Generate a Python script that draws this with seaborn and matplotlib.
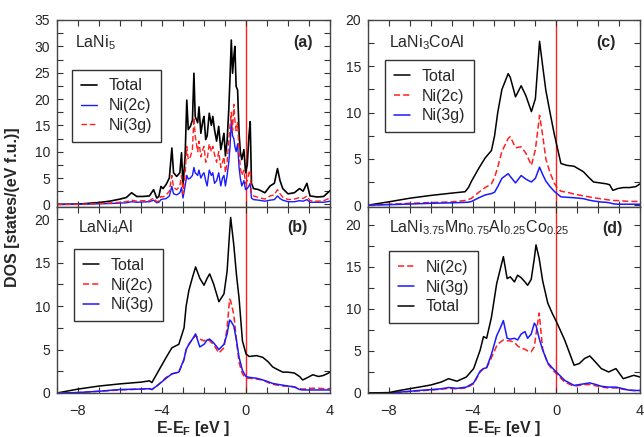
import numpy as np
import pandas as pd
import seaborn as sns
import matplotlib
matplotlib.use("Agg")
import matplotlib.pyplot as plt
from matplotlib.ticker import MultipleLocator

# ---- panel (a) LaNi5 ----
E_a = [-9.0, -8.0, -7.0, -6.5, -6.0, -5.7, -5.45, -5.2, -4.9, -4.6, -4.4, -4.25, -4.15, -4.05,
       -3.95, -3.8, -3.65, -3.53, -3.45, -3.3, -3.15, -3.07, -3.0, -2.9, -2.82, -2.75, -2.65,
       -2.55, -2.48, -2.42, -2.3, -2.24, -2.15, -2.05, -2.0, -1.92, -1.85, -1.75, -1.65, -1.58,
       -1.5, -1.4, -1.3, -1.2, -1.12, -1.05, -0.98, -0.9, -0.82, -0.76, -0.7, -0.64, -0.58,
       -0.53, -0.47, -0.4, -0.33, -0.27, -0.2, -0.1, -0.02, 0.06, 0.14, 0.2, 0.26, 0.36, 0.6,
       0.9, 1.15, 1.35, 1.5, 1.62, 1.75, 2.0, 2.3, 2.55, 2.72, 2.9, 3.05, 3.4, 3.7, 4.0]
total_a = [0, 0.05, 0.35, 0.6, 1.0, 1.3, 2.2, 1.5, 1.5, 1.6, 2.8, 1.2, 1.5, 3.4,
           3.0, 3.8, 5.0, 10.7, 6.0, 5.3, 6.0, 9.8, 3.6, 9.0, 19.8, 14.2, 14.8,
           16.0, 24.9, 16.7, 15.5, 18.5, 13.5, 16.0, 16.7, 12.3, 13.0, 17.3, 15.0, 16.7,
           14.2, 12.0, 14.8, 10.4, 12.0, 13.5, 9.2, 12.0, 18.0, 24.2, 31.2, 24.9, 28.0,
           30.0, 22.4, 21.7, 13.5, 10.0, 8.5, 10.4, 6.0, 7.5, 13.0, 15.7, 4.0, 3.0, 2.8,
           2.2, 3.5, 4.0, 6.8, 4.5, 3.0, 2.0, 2.2, 3.0, 2.5, 4.0, 1.6, 1.4, 1.5, 2.6]
ni2c_a = [0, 0, 0.1, 0.15, 0.25, 0.3, 0.5, 0.4, 0.45, 0.5, 0.8, 0.3, 0.4, 0.9,
          1.0, 1.1, 1.6, 3.4, 2.0, 1.8, 2.2, 3.2, 1.2, 3.5, 5.5, 4.8, 5.0,
          5.5, 7.0, 6.0, 5.5, 6.5, 5.0, 5.8, 6.0, 4.5, 3.5, 6.5, 5.5, 6.0,
          4.0, 4.5, 6.0, 3.5, 5.0, 5.5, 3.5, 5.5, 8.0, 11.0, 16.0, 13.0, 12.5,
          11.0, 10.0, 11.5, 7.0, 5.0, 3.5, 4.5, 2.8, 3.0, 3.5, 4.0, 1.2, 0.9, 0.8,
          0.6, 0.8, 0.9, 1.6, 1.1, 0.8, 0.5, 0.5, 0.7, 0.6, 0.9, 0.4, 0.4, 0.4, 0.6]
ni3g_a = [0, 0, 0.15, 0.25, 0.4, 0.5, 0.8, 0.6, 0.7, 0.7, 1.2, 0.5, 0.6, 1.5,
          1.4, 1.8, 2.5, 5.5, 3.2, 2.8, 3.5, 5.5, 2.0, 5.8, 11.0, 8.5, 9.0,
          10.5, 16.5, 13.0, 10.0, 12.0, 9.0, 10.5, 11.0, 8.0, 8.5, 11.5, 10.0, 11.0,
          9.5, 8.0, 10.0, 7.0, 8.0, 9.0, 6.0, 8.0, 12.0, 15.0, 17.5, 14.0, 19.0,
          16.0, 14.0, 15.5, 10.0, 7.0, 5.5, 6.5, 4.0, 4.5, 6.0, 6.5, 2.0, 1.6, 1.3,
          1.0, 1.6, 1.8, 2.8, 2.0, 1.4, 0.9, 1.0, 1.3, 1.1, 1.6, 0.7, 0.6, 0.7, 1.2]

# ---- panel (b) LaNi4Al ----
E_b = [-9.0, -8.0, -7.0, -6.0, -5.0, -4.6, -4.48, -4.2, -3.8, -3.53, -3.2, -2.95, -2.85,
       -2.72, -2.55, -2.4, -2.2, -2.0, -1.85, -1.73, -1.55, -1.29, -1.05, -0.9, -0.78,
       -0.73, -0.58, -0.45, -0.33, -0.17, 0.0, 0.15, 0.5, 0.8, 1.05, 1.27, 1.5, 1.75,
       2.0, 2.3, 2.55, 2.7, 2.95, 3.18, 3.45, 3.66, 3.85, 4.0]
total_b = [0, 0.45, 0.8, 1.05, 1.25, 1.4, 1.2, 2.4, 4.1, 5.2, 5.6, 7.5, 10.0,
           11.8, 13.3, 14.5, 13.2, 12.4, 13.2, 13.7, 12.6, 10.5, 11.4, 14.0, 18.5,
           20.2, 17.0, 13.5, 10.9, 6.0, 4.5, 4.2, 4.3, 4.1, 3.6, 3.0, 2.7, 2.4,
           2.4, 2.3, 1.9, 1.5, 1.8, 2.1, 1.9, 2.0, 2.2, 2.4]
ni2c_b = [0, 0.05, 0.2, 0.35, 0.45, 0.5, 0.4, 0.9, 1.8, 2.2, 2.4, 3.8, 5.0,
          5.6, 6.2, 6.6, 6.2, 6.0, 6.2, 6.0, 5.6, 4.6, 5.2, 7.5, 10.8,
          10.6, 9.0, 6.0, 3.5, 2.2, 1.7, 1.7, 1.6, 1.5, 1.2, 1.0, 0.9, 0.8,
          0.8, 0.7, 0.5, 0.45, 0.5, 0.55, 0.55, 0.5, 0.5, 0.5]
ni3g_b = [0, 0.05, 0.2, 0.4, 0.45, 0.5, 0.4, 0.9, 1.7, 2.2, 2.4, 3.9, 5.0,
          5.6, 6.2, 6.8, 5.3, 5.6, 6.1, 6.2, 5.8, 5.0, 5.6, 6.8, 8.4,
          8.3, 7.7, 6.0, 4.1, 2.6, 1.9, 1.8, 1.7, 1.5, 1.3, 1.1, 1.0, 0.9,
          0.8, 0.7, 0.4, 0.35, 0.35, 0.35, 0.35, 0.35, 0.35, 0.35]

# ---- panel (c) LaNi3CoAl ----
E_c = [-9.0, -8.0, -7.0, -6.0, -5.0, -4.36, -4.2, -4.05, -3.7, -3.4, -3.1, -2.95, -2.8,
       -2.6, -2.3, -2.2, -1.95, -1.68, -1.45, -1.19, -1.0, -0.8, -0.65, -0.5, -0.3, -0.1,
       0.0, 0.22, 0.5, 0.85, 1.3, 1.55, 1.78, 2.1, 2.4, 2.55, 2.7, 2.95, 3.2, 3.5, 3.8, 4.0]
total_c = [0, 0.36, 0.75, 1.05, 1.3, 1.45, 1.9, 2.6, 4.0, 5.1, 5.9, 7.5, 10.0,
           12.5, 14.2, 13.8, 11.7, 12.9, 11.8, 10.1, 11.5, 17.7, 15.0, 12.4, 10.0, 7.7,
           6.7, 4.5, 4.3, 4.2, 3.6, 3.0, 2.5, 2.4, 2.3, 2.2, 1.6, 1.8, 1.9, 1.9, 2.0, 2.3]
ni2c_c = [0, 0.1, 0.2, 0.28, 0.35, 0.5, 0.6, 0.75, 1.4, 1.9, 2.3, 3.0, 4.1,
          5.8, 7.2, 7.4, 6.2, 6.3, 5.6, 4.3, 6.0, 9.7, 7.5, 5.0, 3.5, 2.4,
          2.0, 1.5, 1.4, 1.2, 1.0, 0.9, 0.8, 0.7, 0.6, 0.55, 0.5, 0.5, 0.45, 0.4, 0.4, 0.4]
ni3g_c = [0, 0.05, 0.12, 0.2, 0.25, 0.3, 0.32, 0.4, 0.8, 1.1, 1.25, 1.4, 2.0,
          2.9, 3.4, 3.1, 2.4, 3.2, 2.8, 2.5, 2.9, 4.1, 3.3, 2.6, 2.0, 1.5,
          1.3, 0.9, 0.85, 0.8, 0.7, 0.55, 0.45, 0.35, 0.3, 0.25, 0.15, 0.1, 0.1, 0.1, 0.1, 0.1]

# ---- panel (d) LaNi3.75Mn0.75Al0.25Co0.25 ----
E_d = [-9.0, -8.0, -7.5, -6.57, -6.0, -5.5, -5.15, -4.75, -4.3, -3.95, -3.64, -3.48, -3.33,
       -3.1, -2.85, -2.7, -2.53, -2.35, -2.2, -2.0, -1.85, -1.68, -1.5, -1.37, -1.2, -1.05,
       -0.97, -0.82, -0.65, -0.41, -0.2, 0.0, 0.4, 0.85, 1.1, 1.35, 1.6, 1.9, 2.15, 2.5,
       2.85, 3.2, 3.45, 3.7, 4.0]
total_d = [0, 0.05, 0.3, 0.7, 0.95, 1.3, 1.7, 1.4, 1.9, 2.9, 5.1, 6.7, 6.5,
           9.0, 13.0, 14.5, 16.2, 13.6, 13.8, 13.2, 14.0, 13.7, 13.2, 12.8, 13.5, 16.0,
           17.6, 16.0, 13.3, 10.7, 9.5, 8.5, 6.3, 3.3, 3.5, 4.1, 4.4, 3.6, 2.9, 2.5,
           2.9, 1.7, 1.9, 2.1, 1.9]
ni2c_d = [0, 0, 0.1, 0.25, 0.35, 0.45, 0.55, 0.5, 0.6, 1.1, 2.5, 2.9, 3.0,
          4.2, 5.6, 6.0, 6.3, 6.2, 6.2, 6.0, 5.6, 5.3, 5.2, 5.0, 4.9, 5.5,
          7.0, 9.5, 5.2, 3.5, 2.8, 2.3, 1.3, 0.8, 0.9, 1.0, 1.0, 0.85, 0.7, 0.6,
          0.6, 0.45, 0.35, 0.3, 0.3]
ni3g_d = [0, 0, 0.1, 0.3, 0.4, 0.5, 0.65, 0.55, 0.7, 1.2, 2.6, 2.9, 3.0,
          4.6, 6.8, 7.6, 8.6, 6.5, 6.4, 6.5, 6.3, 7.0, 7.3, 6.5, 7.0, 8.3,
          8.0, 6.5, 5.1, 3.6, 3.0, 2.5, 1.5, 0.9, 1.0, 1.1, 1.2, 1.0, 0.8, 0.7,
          0.7, 0.5, 0.35, 0.3, 0.3]

BLUE = "#1a1aff"
RED = "#ff2020"

sns.set_theme(style="ticks")
plt.rcParams["font.family"] = ["Liberation Sans", "DejaVu Sans"]
plt.rcParams["mathtext.fontset"] = "custom"
plt.rcParams["mathtext.rm"] = "Liberation Sans"
plt.rcParams["mathtext.it"] = "Liberation Sans"
plt.rcParams["mathtext.bf"] = "Liberation Sans:bold"
plt.rcParams["mathtext.default"] = "rm"

fig = plt.figure(figsize=(6.44, 4.37), dpi=100)
W, H = 644, 437


def add_ax(x0, y0, x1, y1):
    return fig.add_axes([x0 / W, 1 - y1 / H, (x1 - x0) / W, (y1 - y0) / H])


ax_a = add_ax(57, 20, 330, 207)
ax_b = add_ax(57, 207, 330, 393)
ax_c = add_ax(368, 20, 640, 207)
ax_d = add_ax(368, 207, 640, 393)


def draw(ax, E, series, order, ylim, ymajor):
    for key in order:
        label, y, color, ls, lw = series[key]
        df = pd.DataFrame({"E": E, "DOS": y})
        sns.lineplot(data=df, x="E", y="DOS", ax=ax, color=color, lw=lw,
                     linestyle=ls, label=label, sort=False, estimator=None)
    ax.axvline(0, color=RED, lw=1.0, zorder=0.5)
    ax.set_xlim(-9, 4)
    ax.set_ylim(*ylim)
    ax.xaxis.set_major_locator(MultipleLocator(4))
    ax.xaxis.set_minor_locator(MultipleLocator(1))
    ax.yaxis.set_major_locator(MultipleLocator(ymajor))
    ax.yaxis.set_minor_locator(MultipleLocator(2.5))
    ax.tick_params(which="both", direction="in", top=True, right=True,
                   length=4, width=0.8, color="#333333")
    ax.tick_params(axis="y", pad=5, labelsize=10)
    ax.tick_params(axis="x", pad=8, labelsize=10.5)
    for sp in ax.spines.values():
        sp.set_linewidth(1.0)
        sp.set_color("#444444")
    ax.set_xlabel("")
    ax.set_ylabel("")


def legend(ax, anchor):
    leg = ax.legend(loc="upper left", bbox_to_anchor=anchor, fontsize=11.5,
                    frameon=True, fancybox=False, framealpha=1, edgecolor="#333333",
                    handlelength=1.0, handletextpad=0.75, borderpad=0.55,
                    borderaxespad=0, labelspacing=0.3)
    leg.get_frame().set_linewidth(1.0)


s_a = {"t": ("Total", total_a, "black", "-", 1.2),
       "2c": ("Ni(2c)", ni2c_a, BLUE, "-", 1.0),
       "3g": ("Ni(3g)", ni3g_a, RED, (0, (4, 2)), 1.0)}
draw(ax_a, E_a, s_a, ["t", "2c", "3g"], (-0.5, 35), 5)
legend(ax_a, (0.055, 0.735))

s_b = {"t": ("Total", total_b, "black", "-", 1.1),
       "2c": ("Ni(2c)", ni2c_b, RED, (0, (4, 2)), 1.1),
       "3g": ("Ni(3g)", ni3g_b, BLUE, "-", 1.1)}
draw(ax_b, E_b, s_b, ["t", "2c", "3g"], (0, 21.4), 5)
legend(ax_b, (0.062, 0.774))

s_c = {"t": ("Total", total_c, "black", "-", 1.1),
       "2c": ("Ni(2c)", ni2c_c, RED, (0, (4, 2)), 1.1),
       "3g": ("Ni(3g)", ni3g_c, BLUE, "-", 1.1)}
draw(ax_c, E_c, s_c, ["t", "2c", "3g"], (-0.2, 20), 5)
legend(ax_c, (0.0625, 0.786))

s_d = {"t": ("Total", total_d, "black", "-", 1.1),
       "2c": ("Ni(2c)", ni2c_d, RED, (0, (4, 2)), 1.1),
       "3g": ("Ni(3g)", ni3g_d, BLUE, "-", 1.1)}
draw(ax_d, E_d, s_d, ["2c", "3g", "t"], (0, 22.1), 5)
legend(ax_d, (0.077, 0.763))

for ax in (ax_a, ax_c):
    ax.tick_params(labelbottom=False)

names = [(ax_a, "LaNi$_{5}$", 0.066, 0.88, "(a)", 0.90),
         (ax_b, "LaNi$_{4}$Al", 0.077, 0.89, "(b)", 0.88),
         (ax_c, "LaNi$_{3}$CoAl", 0.077, 0.88, "(c)", 0.875),
         (ax_d, "LaNi$_{3.75}$Mn$_{0.75}$Al$_{0.25}$Co$_{0.25}$", 0.077, 0.887, "(d)", 0.897)]
for ax, name, nx, ny, tag, tx in names:
    ax.text(nx, ny, name, transform=ax.transAxes, fontsize=11.5, ha="left", va="center")
    ax.text(tx, ny, tag, transform=ax.transAxes, fontsize=11.5, fontweight="bold",
            ha="center", va="center")

fig.text(13 / W, 1 - 207 / H, "DOS [states/(eV f.u.)]", rotation=90, fontsize=11.5,
         fontweight="bold", ha="center", va="center")
for ax in (ax_b, ax_d):
    pos = ax.get_position()
    fig.text(pos.x0 + pos.width / 2, 1 - 428 / H, r"E-E$_\mathbf{F}$ [eV ]", fontsize=11.5,
             fontweight="bold", ha="center", va="center")

fig.savefig("out.png", dpi=100)
